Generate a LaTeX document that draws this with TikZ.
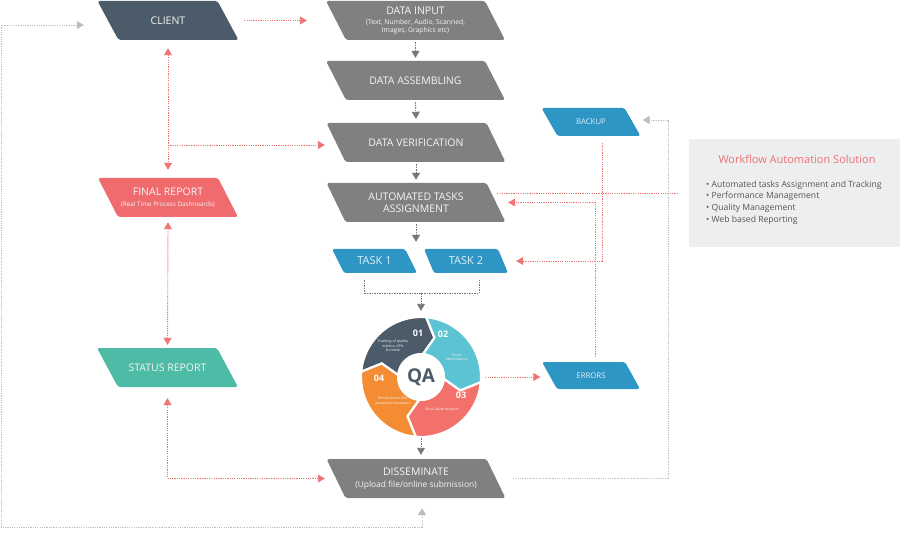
\documentclass[tikz,border=0pt]{standalone}
\usepackage{fontspec}
\setmainfont{Open Sans}
\usetikzlibrary{arrows.meta,calc}
\definecolor{slate}{HTML}{4B5B69}
\definecolor{boxgray}{HTML}{808080}
\definecolor{fred}{HTML}{F06B6D}
\definecolor{steal}{HTML}{4DBBA5}
\definecolor{bblue}{HTML}{2E96C4}
\definecolor{qcyan}{HTML}{5CC3D2}
\definecolor{qsalmon}{HTML}{F2716B}
\definecolor{qorange}{HTML}{F48C33}
\definecolor{lred}{HTML}{F07474}
\definecolor{dgray}{HTML}{777777}
\definecolor{lgray}{HTML}{BDBDBD}
\definecolor{wfbg}{HTML}{EDEEF0}
\definecolor{wftitle}{HTML}{F07070}
\definecolor{wftext}{HTML}{555555}
% #1 text style, #2 name, #3 cx, #4 cy, #5 edge width, #6 height, #7 slant, #8 fill, #9 text
\newcommand\flowbox[9][boxtext]{%
  \fill[#8,rounded corners=2.5pt] ({#3-#5/2-#7/2},{#4-#6/2}) -- ({#3+#5/2-#7/2},{#4-#6/2})
     -- ({#3+#5/2+#7/2},{#4+#6/2}) -- ({#3-#5/2+#7/2},{#4+#6/2}) -- cycle;
  \node[#1,minimum width=#5pt,minimum height=#6pt] (#2) at (#3,#4) {#9};}
\newcommand\subf{\fontsize{6.8}{8}\selectfont}
\begin{document}
\begin{tikzpicture}[x=1pt,y=-1pt,
  >={Triangle[length=7pt,width=8pt]},
  boxtext/.style={inner sep=0pt, align=center, text=white!92!gray, font=\fontsize{10.5}{12.5}\selectfont},
  bluetext/.style={boxtext, text=white!85!bblue},
  redline/.style={draw=lred, line width=0.9pt, dash pattern=on 1.2pt off 1.1pt},
  flowline/.style={draw=dgray, line width=0.9pt, dash pattern=on 1.5pt off 1pt},
  flow/.style={flowline, ->, >={Triangle[length=7pt,width=8pt]}, color=dgray},
  loopline/.style={draw=lgray, line width=0.9pt, dash pattern=on 1.2pt off 1.1pt, color=lgray},
  qnum/.style={font=\bfseries\fontsize{9}{9}\selectfont, text=white, inner sep=0pt},
  qlab/.style={font=\fontsize{3.6}{4.4}\selectfont, text=white!90!gray, align=center, inner sep=0pt}
]
\useasboundingbox (0,0) rectangle (900,540);
\fill[white] (0,0) rectangle (900,540);

% workflow panel
\node[fill=wfbg, minimum width=211pt, minimum height=108pt, inner sep=0pt] (wf) at (794.5,193) {};
\node[text=wftitle, font=\fontsize{11}{12}\selectfont, inner sep=0pt] (wft) at (797,159) {Workflow Automation Solution};
\node[text=wftext, font=\fontsize{8.6}{11.8}\selectfont, align=left, anchor=west, inner sep=0pt] (wfl) at (706,202.5)
  {\textbullet\ Automated tasks Assignment and Tracking\\
   \textbullet\ Performance Management\\
   \textbullet\ Quality Management\\
   \textbullet\ Web based Reporting};

% boxes
\flowbox{client}{168}{20.5}{120}{39}{21}{slate}{CLIENT}
\flowbox{datainput}{415.5}{20.5}{159}{39}{20}{boxgray}{DATA INPUT\\[-2pt]\subf (Text, Number, Audio, Scanned,\\[-4.5pt]\subf Images, Graphics etc)}
\flowbox{assembling}{415.5}{80.5}{159}{39}{20}{boxgray}{DATA ASSEMBLING}
\flowbox{verification}{416}{142.5}{160}{39}{19}{boxgray}{DATA VERIFICATION}
\flowbox{automated}{416}{202.5}{160}{39}{19}{boxgray}{AUTOMATED TASKS\\ASSIGNMENT}
\flowbox{final}{168}{197.5}{120}{39}{20}{fred}{FINAL REPORT\\[-2pt]\fontsize{6.3}{7}\selectfont (Real Time Process Dashnoards)}
\flowbox{status}{167.5}{367.5}{120}{39}{21}{steal}{STATUS REPORT}
\flowbox[bluetext]{task1}{374.5}{261}{73}{24}{12}{bblue}{\fontsize{11}{13}\selectfont TASK 1}
\flowbox[bluetext]{task2}{466}{261}{74}{24}{10}{bblue}{\fontsize{11}{13}\selectfont TASK 2}
\flowbox[bluetext]{backup}{591}{122}{83}{28}{16}{bblue}{\fontsize{7.8}{9}\selectfont BACKUP}
\flowbox[bluetext]{errors}{591}{375.5}{83}{27}{15}{bblue}{\fontsize{7.8}{9}\selectfont ERRORS}
\flowbox{dissem}{416}{478.5}{160}{39}{19}{boxgray}{DISSEMINATE\\[-1pt]\fontsize{8.4}{9.5}\selectfont (Upload file/online submission)}

% QA ring
\begin{scope}[shift={(421,377)}, y=1pt]
  \foreach \a/\c in {175/slate, 85/qcyan, -5/qsalmon, -95/qorange} {
    \path[fill=\c, draw=white, line width=2.2pt, line join=miter]
      (\a:60) arc[start angle=\a, end angle=\a-90, radius=60]
      -- ({\a-104}:41.5) -- ({\a-90}:23) arc[start angle=\a-90, end angle=\a, radius=23]
      -- ({\a-14}:41.5) -- cycle;
  }
\end{scope}
\node[circle, minimum size=120pt, inner sep=0pt, text=slate, font=\bfseries\fontsize{19}{19}\selectfont] (qa) at (421,377) {QA};
\node[qnum] (n1) at (418,333) {01};
\node[qnum] (n2) at (443,334) {02};
\node[qnum] (n3) at (461,395) {03};
\node[qnum] (n4) at (379,378) {04};
\node[qlab] (l1) at (393,346) {Tracking of quality\\metrics, KPIs\\\& trends};
\node[qlab] (l2) at (457,357) {Errors\\Identification};
\node[qlab] (l3) at (442,410) {Root Cause Analysis};
\node[qlab] (l4) at (393,401) {Rectify errors/Put\\preventive measures};

% central flow
\draw[flow] ([yshift=-2pt]datainput.south) -- ([yshift=3pt]assembling.north);
\draw[flow] ([yshift=-2pt]assembling.south) -- ([yshift=4pt]verification.north);
\draw[flow] ([yshift=-2pt]verification.south) -- ([yshift=3pt]automated.north);
\coordinate (tk) at (automated.south |- task1.north);
\draw[flow] ([yshift=-2pt]automated.south) -- ([yshift=7pt]tk);
\coordinate (bl) at ([xshift=-10pt,yshift=-7pt]task1.south);
\coordinate (br) at ([xshift=13pt,yshift=-7pt]task2.south);
\draw[flowline] (bl) -- ++(0,13) -| (br);
\coordinate (bm) at ([yshift=-13pt]qa.north |- bl);
\draw[flow] (bm) -- ([yshift=6pt]qa.north);
\coordinate (qd) at (qa.south |- dissem.north);
\draw[flow] ([yshift=-1pt]qa.south) -- ([yshift=4pt]qd);

% red connectors
\draw[redline,->] ([xshift=16pt]client.east) -- ([xshift=-29pt]client.east -| datainput.west);
\draw[redline,<->] ([yshift=-8pt]client.south) -- ([yshift=8pt]final.north);
\coordinate (cv) at (client.south |- verification.west);
\draw[redline,->] ([yshift=-2.5pt]cv) -- ([xshift=-11pt,yshift=-2.5pt]verification.west);
\draw[redline,<->] ([yshift=-5pt]final.south) -- ([yshift=3pt]status.north);
\draw[redline,<->] ([yshift=-11pt]status.south) |- ([xshift=-11pt]dissem.west);
\coordinate (qe) at (errors.west |- qa.east);
\draw[redline,->] ([xshift=4pt]qa.east) -- ([xshift=-9pt]qe);
\draw[redline,->] ([xshift=11pt,yshift=-7pt]backup.south) |- ([xshift=13pt]task2.east);
\draw[redline,->] ([xshift=4pt,yshift=5pt]errors.north) |- ([xshift=12pt]automated.east);
\draw[redline] ([xshift=1pt,yshift=9.5pt]automated.east) -- ([xshift=-12pt]wf.west);

% light gray loops
\coordinate (lc) at (1,527);
\draw[loopline,<->] ([xshift=6pt,yshift=-10pt]dissem.south) |- (lc) |- ([xshift=-24pt,yshift=-4.5pt]client.west);
\coordinate (rc) at (668,120);
\draw[loopline,->] ([xshift=17pt]dissem.east) -| (rc) -- ([xshift=10pt,yshift=2pt]backup.east);
\end{tikzpicture}
\end{document}
